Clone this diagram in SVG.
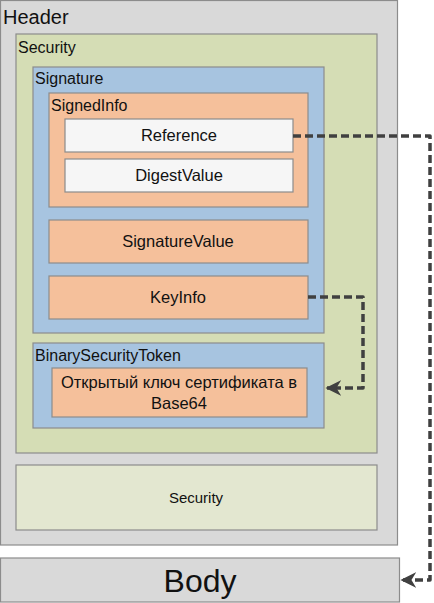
<svg xmlns="http://www.w3.org/2000/svg" width="434" height="603" viewBox="0 0 434 603">
<defs>
<style>
text{font-family:"Liberation Sans",Arial,sans-serif;fill:#111}
.gray{fill:#d9d9d9;stroke:#8c8c8c;stroke-width:1.2}
.green{fill:#d5ddb5;stroke:#8c8c8c;stroke-width:1.2}
.lgreen{fill:#e3e7d0;stroke:#8c8c8c;stroke-width:1.2}
.blue{fill:#a7c4e0;stroke:#8c8c8c;stroke-width:1.2}
.orange{fill:#f5c09b;stroke:#8c8c8c;stroke-width:1.2}
.white{fill:#f6f6f6;stroke:#8c8c8c;stroke-width:1.2}
.lbl{font-size:16px}
.c{font-size:16.5px;text-anchor:middle}
.conn{fill:none;stroke:#404040;stroke-width:3.5;stroke-dasharray:8 4;stroke-linejoin:round}
</style>
<marker id="arr" viewBox="0 0 10 10" refX="9" refY="5" markerWidth="4.5" markerHeight="4.5" orient="auto">
<path d="M0,0 L10,5 L0,10 L3,5 z" fill="#404040"/>
</marker>
</defs>
<g id="header">
<rect class="gray" x="0.5" y="0.5" width="397" height="544.5"/>
<text x="3" y="24" style="font-size:20px">Header</text>
</g>
<g id="security">
<rect class="green" x="16" y="34" width="361" height="419"/>
<text class="lbl" x="18" y="53">Security</text>
</g>
<g id="signature">
<rect class="blue" x="33" y="67" width="291" height="266"/>
<text class="lbl" x="35" y="84">Signature</text>
</g>
<g id="signedinfo">
<rect class="orange" x="49" y="93" width="259" height="114"/>
<text class="lbl" x="51" y="111">SignedInfo</text>
</g>
<g id="reference">
<rect class="white" x="65" y="119" width="228" height="33"/>
<text class="c" x="179" y="141">Reference</text>
</g>
<g id="digestvalue">
<rect class="white" x="65" y="159" width="228" height="33"/>
<text class="c" x="179" y="181">DigestValue</text>
</g>
<g id="signaturevalue">
<rect class="orange" x="49" y="220" width="259" height="43"/>
<text class="c" x="178" y="247">SignatureValue</text>
</g>
<g id="keyinfo">
<rect class="orange" x="49" y="276" width="259" height="43"/>
<text class="c" x="178" y="303">KeyInfo</text>
</g>
<g id="binarysecuritytoken">
<rect class="blue" x="33" y="343" width="291" height="85"/>
<text class="lbl" x="35" y="361">BinarySecurityToken</text>
</g>
<g id="certificate">
<rect class="orange" x="52" y="368" width="255" height="49"/>
<text class="c" x="179" y="388">Открытый ключ сертификата в</text>
<text class="c" x="179" y="409">Base64</text>
</g>
<g id="security2">
<rect class="lgreen" x="16" y="465" width="361" height="65"/>
<text x="196" y="503" style="font-size:15px;text-anchor:middle">Security</text>
</g>
<g id="body">
<rect class="gray" x="0.5" y="558" width="399" height="44"/>
<text x="200" y="592" style="font-size:32px;text-anchor:middle">Body</text>
</g>
<g id="connectors">
<path class="conn" d="M293,136 H430 V580 H402" marker-end="url(#arr)"/>
<path class="conn" d="M308,297 H363 V388 H327" marker-end="url(#arr)"/>
</g>
</svg>
